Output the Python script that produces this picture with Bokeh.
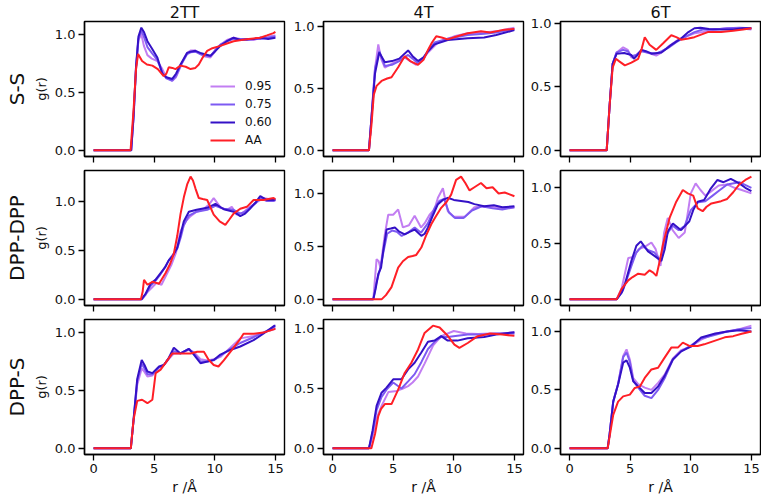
from bokeh.plotting import figure
from bokeh.models import Range1d, Title, Legend, LegendItem, FixedTicker, NumeralTickFormatter
from bokeh.layouts import column, row
from bokeh.embed import file_html
from bokeh.resources import INLINE

# ---------------- labels / styling data ----------------
series_names = ["0.95", "0.75", "0.60", "AA"]
series_colors = ["#c27ef2", "#7d5af2", "#3411c6", "#ff1f26"]
col_titles = ["2TT", "4T", "6T"]
row_titles = ["S-S", "DPP-DPP", "DPP-S"]
x_ticks = [0, 5, 10, 15]
y_ticks = [0, 0.5, 1.0]
x_label = "r /Å"
y_label = "g(r)"

# ---------------- S-S, 2TT ----------------
ss_2tt_095_x = [0, 3.1, 3.3, 3.5, 3.7, 3.94, 4.15, 4.44, 4.8, 5.26, 5.67, 6.0, 6.49, 6.8, 7.17, 7.5, 7.72, 8.0, 8.4, 8.8, 9.1, 9.64, 10.0, 10.46, 11.0, 11.55, 12.1, 12.65, 13.2, 13.75, 14.4, 15.0]
ss_2tt_095_y = [0, 0, 0.30, 0.72, 0.95, 1.0, 0.90, 0.82, 0.79, 0.77, 0.70, 0.63, 0.60, 0.63, 0.72, 0.80, 0.84, 0.86, 0.86, 0.83, 0.81, 0.80, 0.85, 0.91, 0.95, 0.97, 0.96, 0.96, 0.95, 0.97, 0.98, 0.99]
ss_2tt_075_x = ss_2tt_095_x
ss_2tt_075_y = [0, 0, 0.28, 0.70, 0.96, 1.03, 0.98, 0.89, 0.84, 0.78, 0.67, 0.62, 0.60, 0.64, 0.73, 0.79, 0.83, 0.845, 0.85, 0.83, 0.82, 0.81, 0.86, 0.91, 0.94, 0.96, 0.96, 0.95, 0.96, 0.96, 0.97, 0.98]
ss_2tt_060_x = ss_2tt_095_x
ss_2tt_060_y = [0, 0, 0.30, 0.72, 0.98, 1.057, 1.02, 0.94, 0.88, 0.80, 0.66, 0.63, 0.615, 0.66, 0.74, 0.80, 0.84, 0.85, 0.857, 0.84, 0.83, 0.815, 0.85, 0.90, 0.94, 0.97, 0.95, 0.957, 0.96, 0.97, 0.96, 0.97]
ss_2tt_aa_x = [0, 3.05, 3.3, 3.5, 3.67, 4.0, 4.4, 4.85, 5.3, 5.78, 6.0, 6.2, 6.5, 6.76, 7.17, 7.6, 8.0, 8.4, 8.68, 9.0, 9.37, 9.8, 10.46, 11.0, 11.55, 12.2, 12.8, 13.75, 14.3, 14.84, 15.0]
ss_2tt_aa_y = [0, 0, 0.35, 0.70, 0.83, 0.77, 0.74, 0.73, 0.70, 0.64, 0.66, 0.715, 0.71, 0.70, 0.73, 0.72, 0.70, 0.71, 0.74, 0.80, 0.857, 0.88, 0.90, 0.92, 0.94, 0.95, 0.96, 0.97, 0.99, 1.01, 1.02]

# ---------------- S-S, 4T ----------------
ss_4t_095_x = [0, 3.0, 3.2, 3.5, 3.77, 4.0, 4.31, 4.9, 5.5, 5.95, 6.4, 6.9, 7.4, 7.87, 8.69, 9.5, 10.03, 11.15, 12.5, 13.5, 15.0]
ss_4t_095_y = [0, 0, 0.25, 0.66, 0.855, 0.74, 0.668, 0.70, 0.73, 0.75, 0.72, 0.69, 0.73, 0.79, 0.87, 0.90, 0.92, 0.945, 0.95, 0.96, 0.99]
ss_4t_075_x = [0, 3.0, 3.2, 3.5, 3.85, 4.31, 4.9, 5.5, 6.23, 6.6, 7.05, 7.5, 7.87, 8.41, 9.5, 11.15, 12.5, 13.5, 15.0]
ss_4t_075_y = [0, 0, 0.26, 0.66, 0.80, 0.68, 0.69, 0.72, 0.77, 0.74, 0.70, 0.74, 0.80, 0.87, 0.90, 0.93, 0.94, 0.95, 0.98]
ss_4t_060_x = ss_4t_075_x
ss_4t_060_y = [0, 0, 0.25, 0.62, 0.79, 0.71, 0.72, 0.74, 0.806, 0.76, 0.72, 0.75, 0.80, 0.855, 0.89, 0.905, 0.91, 0.93, 0.97]
ss_4t_aa_x = [0, 3.0, 3.2, 3.4, 3.63, 4.04, 4.5, 4.86, 5.41, 5.95, 6.4, 7.05, 7.5, 7.87, 8.2, 8.55, 9.0, 9.5, 10.3, 11.15, 12.24, 13.0, 14.0, 15.0]
ss_4t_aa_y = [0, 0, 0.20, 0.45, 0.52, 0.56, 0.58, 0.59, 0.67, 0.76, 0.72, 0.69, 0.73, 0.81, 0.87, 0.92, 0.91, 0.895, 0.92, 0.945, 0.96, 0.95, 0.97, 0.98]

# ---------------- S-S, 6T ----------------
ss_6t_095_x = [0, 3.06, 3.3, 3.55, 3.88, 4.42, 4.8, 5.1, 5.5, 5.93, 6.4, 7.15, 7.6, 8.2, 8.8, 9.5, 10.3, 11.0, 12.0, 13.0, 14.0, 15.0]
ss_6t_095_y = [0, 0, 0.35, 0.68, 0.77, 0.81, 0.79, 0.73, 0.75, 0.79, 0.77, 0.745, 0.77, 0.82, 0.86, 0.89, 0.92, 0.93, 0.95, 0.96, 0.96, 0.95]
ss_6t_075_x = ss_6t_095_x
ss_6t_075_y = [0, 0, 0.35, 0.68, 0.77, 0.79, 0.78, 0.74, 0.75, 0.78, 0.77, 0.76, 0.78, 0.81, 0.85, 0.89, 0.93, 0.95, 0.95, 0.96, 0.965, 0.96]
ss_6t_060_x = [0, 3.06, 3.3, 3.55, 3.88, 4.5, 5.1, 5.3, 5.6, 5.93, 6.3, 6.75, 7.57, 8.0, 8.39, 9.2, 9.8, 10.3, 10.8, 11.5, 12.5, 13.5, 14.3, 15.0]
ss_6t_060_y = [0, 0, 0.35, 0.68, 0.76, 0.765, 0.75, 0.72, 0.75, 0.79, 0.78, 0.76, 0.77, 0.80, 0.83, 0.88, 0.93, 0.96, 0.965, 0.955, 0.95, 0.95, 0.96, 0.96]
ss_6t_aa_x = [0, 3.06, 3.3, 3.55, 3.82, 4.1, 4.56, 5.1, 5.66, 5.95, 6.2, 6.6, 7.15, 7.7, 8.39, 8.8, 9.2, 9.8, 10.3, 11.4, 12.5, 13.5, 14.3, 15.0]
ss_6t_aa_y = [0, 0, 0.35, 0.65, 0.72, 0.70, 0.668, 0.69, 0.72, 0.80, 0.89, 0.83, 0.79, 0.84, 0.905, 0.89, 0.87, 0.88, 0.89, 0.93, 0.93, 0.94, 0.95, 0.96]

# ---------------- DPP-DPP, 2TT ----------------
dd_2tt_095_x = [0, 4.0, 4.4, 4.8, 5.2, 5.6, 6.0, 6.4, 6.8, 7.17, 7.6, 8.0, 8.5, 9.0, 9.5, 9.91, 10.5, 11.0, 11.4, 11.8, 12.3, 12.9, 13.5, 14.0, 14.85, 15.0]
dd_2tt_095_y = [0, 0, 0.07, 0.12, 0.17, 0.15, 0.25, 0.35, 0.48, 0.70, 0.80, 0.855, 0.90, 0.92, 0.97, 1.04, 0.94, 0.92, 0.95, 0.87, 0.89, 0.95, 1.0, 1.04, 1.02, 1.01]
dd_2tt_075_x = [0, 3.95, 4.3, 4.7, 5.1, 5.53, 5.9, 6.2, 6.55, 6.9, 7.2, 7.44, 7.86, 8.5, 9.37, 10.05, 10.74, 11.55, 12.1, 12.5, 12.9, 13.4, 13.75, 14.3, 14.85, 15.0]
dd_2tt_075_y = [0, 0, 0.05, 0.14, 0.19, 0.26, 0.33, 0.40, 0.46, 0.52, 0.64, 0.76, 0.86, 0.90, 0.92, 0.96, 0.93, 0.92, 0.88, 0.90, 0.94, 0.99, 1.04, 1.01, 1.01, 1.02]
dd_2tt_060_x = dd_2tt_075_x
dd_2tt_060_y = [0, 0, 0.06, 0.16, 0.20, 0.27, 0.33, 0.40, 0.45, 0.53, 0.68, 0.80, 0.90, 0.92, 0.94, 0.98, 0.925, 0.90, 0.855, 0.88, 0.93, 1.0, 1.06, 1.02, 1.02, 1.03]
dd_2tt_aa_x = [0, 3.9, 4.05, 4.16, 4.44, 4.85, 5.4, 5.94, 6.3, 6.62, 6.9, 7.17, 7.45, 7.72, 8.0, 8.2, 8.4, 8.68, 9.0, 9.37, 9.91, 10.4, 10.87, 11.2, 11.55, 12.1, 12.65, 13.2, 14.0, 14.85, 15.0]
dd_2tt_aa_y = [0, 0, 0.08, 0.20, 0.15, 0.18, 0.16, 0.27, 0.36, 0.47, 0.65, 0.875, 1.05, 1.18, 1.26, 1.22, 1.14, 1.04, 1.03, 1.02, 0.87, 0.80, 0.765, 0.82, 0.88, 0.93, 0.95, 1.02, 1.02, 1.04, 1.03]

# ---------------- DPP-DPP, 4T ----------------
dd_4t_095_x = [0, 3.36, 3.5, 3.63, 3.8, 3.95, 4.31, 4.59, 5.0, 5.41, 5.8, 6.3, 6.77, 7.3, 7.6, 8.0, 8.4, 8.69, 9.1, 9.5, 10.0, 10.9, 11.7, 12.5, 13.3, 14.0, 15.0]
dd_4t_095_y = [0, 0, 0.20, 0.38, 0.36, 0.30, 0.615, 0.80, 0.80, 0.85, 0.68, 0.70, 0.79, 0.68, 0.72, 0.80, 0.85, 0.96, 1.05, 0.835, 0.78, 0.78, 0.87, 0.88, 0.87, 0.86, 0.87]
dd_4t_075_x = [0, 3.36, 3.6, 3.9, 4.2, 4.5, 4.9, 5.3, 5.7, 6.2, 6.77, 7.3, 7.87, 8.4, 8.8, 9.2, 9.6, 10.1, 10.8, 11.5, 12.3, 13.2, 14.0, 15.0]
dd_4t_075_y = [0, 0, 0.15, 0.28, 0.45, 0.62, 0.65, 0.64, 0.60, 0.63, 0.68, 0.63, 0.72, 0.86, 0.93, 0.95, 0.82, 0.77, 0.77, 0.84, 0.88, 0.86, 0.85, 0.87]
dd_4t_060_x = [0, 3.36, 3.55, 3.77, 4.0, 4.18, 4.45, 4.8, 5.14, 5.5, 5.95, 6.4, 6.77, 7.32, 7.6, 7.87, 8.3, 8.69, 9.1, 9.5, 10.0, 10.6, 11.2, 11.7, 12.5, 13.3, 14.0, 15.0]
dd_4t_060_y = [0, 0, 0.10, 0.24, 0.30, 0.46, 0.66, 0.67, 0.68, 0.64, 0.615, 0.64, 0.66, 0.60, 0.62, 0.68, 0.80, 0.90, 0.94, 0.96, 0.94, 0.93, 0.92, 0.90, 0.88, 0.89, 0.87, 0.88]
dd_4t_aa_x = [0, 4.04, 4.4, 4.86, 5.41, 5.8, 6.23, 6.6, 6.9, 7.32, 7.7, 8.14, 8.5, 8.96, 9.4, 9.78, 10.19, 10.6, 10.95, 11.3, 11.7, 12.24, 12.7, 13.2, 13.7, 14.2, 15.0]
dd_4t_aa_y = [0, 0, 0.04, 0.115, 0.30, 0.36, 0.40, 0.41, 0.42, 0.49, 0.60, 0.71, 0.78, 0.865, 0.92, 0.99, 1.13, 1.16, 1.10, 1.03, 1.06, 1.10, 1.05, 1.06, 1.00, 1.01, 0.975]

# ---------------- DPP-DPP, 6T ----------------
dd_6t_095_x = [0, 3.88, 4.3, 4.84, 5.3, 5.7, 6.2, 6.75, 7.1, 7.5, 7.8, 8.1, 8.5, 9.0, 9.5, 10.0, 10.4, 10.8, 11.2, 11.7, 12.3, 13.0, 13.6, 14.2, 15.0]
dd_6t_095_y = [0, 0, 0.10, 0.37, 0.38, 0.45, 0.47, 0.51, 0.45, 0.30, 0.60, 0.73, 0.62, 0.55, 0.60, 0.95, 1.04, 0.98, 0.93, 0.97, 1.02, 1.03, 1.0, 0.98, 0.95]
dd_6t_075_x = [0, 3.88, 4.4, 5.1, 5.5, 6.0, 6.5, 7.0, 7.5, 8.0, 8.5, 9.0, 9.5, 10.0, 10.6, 11.2, 11.8, 12.4, 13.0, 14.0, 15.0]
dd_6t_075_y = [0, 0, 0.08, 0.30, 0.42, 0.48, 0.44, 0.42, 0.35, 0.58, 0.66, 0.62, 0.66, 0.80, 0.87, 0.88, 0.93, 0.98, 1.03, 1.05, 1.0]
dd_6t_060_x = [0, 3.88, 4.3, 4.6, 5.1, 5.51, 5.87, 6.2, 6.47, 7.0, 7.57, 7.85, 8.11, 8.52, 9.2, 9.88, 10.2, 10.57, 11.1, 11.66, 12.2, 12.7, 13.3, 14.0, 14.5, 15.0]
dd_6t_060_y = [0, 0, 0.06, 0.15, 0.345, 0.48, 0.52, 0.47, 0.43, 0.39, 0.345, 0.45, 0.61, 0.68, 0.62, 0.70, 0.80, 0.876, 0.89, 0.995, 1.07, 1.05, 1.08, 1.04, 1.0, 0.97]
dd_6t_aa_x = [0, 3.88, 4.29, 4.84, 5.2, 5.66, 6.2, 6.6, 6.9, 7.16, 7.45, 7.7, 8.25, 8.8, 9.34, 9.75, 10.2, 10.57, 10.98, 11.3, 11.7, 12.5, 13.0, 13.5, 14.0, 14.5, 15.0]
dd_6t_aa_y = [0, 0, 0.094, 0.17, 0.20, 0.23, 0.22, 0.26, 0.24, 0.21, 0.35, 0.49, 0.73, 0.875, 0.98, 0.95, 0.93, 0.815, 0.79, 0.83, 0.86, 0.88, 0.90, 0.96, 1.03, 1.07, 1.10]

# ---------------- DPP-S, 2TT ----------------
ds_2tt_095_x = [0, 3.07, 3.3, 3.6, 3.97, 4.2, 4.44, 4.85, 5.4, 5.8, 6.2, 6.62, 7.17, 7.86, 8.27, 8.82, 9.4, 9.91, 10.46, 11.28, 12.1, 13.2, 14.0, 14.93, 15.0]
ds_2tt_095_y = [0, 0, 0.24, 0.55, 0.69, 0.66, 0.62, 0.63, 0.70, 0.72, 0.77, 0.82, 0.82, 0.85, 0.83, 0.77, 0.76, 0.77, 0.79, 0.87, 0.95, 0.97, 1.0, 1.03, 1.03]
ds_2tt_075_x = ds_2tt_095_x
ds_2tt_075_y = [0, 0, 0.25, 0.58, 0.73, 0.69, 0.64, 0.64, 0.70, 0.72, 0.78, 0.84, 0.82, 0.86, 0.82, 0.75, 0.75, 0.76, 0.80, 0.86, 0.91, 0.96, 1.0, 1.05, 1.05]
ds_2tt_060_x = ds_2tt_095_x
ds_2tt_060_y = [0, 0, 0.25, 0.60, 0.764, 0.72, 0.664, 0.65, 0.707, 0.72, 0.78, 0.87, 0.82, 0.86, 0.81, 0.735, 0.75, 0.764, 0.81, 0.85, 0.88, 0.935, 0.99, 1.06, 1.06]
ds_2tt_aa_x = [0, 3.07, 3.3, 3.6, 4.0, 4.44, 4.85, 5.12, 5.53, 6.08, 6.5, 7.17, 8.0, 8.55, 9.1, 9.5, 9.91, 10.3, 10.74, 11.41, 12.0, 12.37, 13.2, 14.0, 14.93, 15.0]
ds_2tt_aa_y = [0, 0, 0.25, 0.41, 0.42, 0.39, 0.42, 0.65, 0.68, 0.76, 0.82, 0.82, 0.82, 0.835, 0.835, 0.764, 0.72, 0.707, 0.76, 0.85, 0.93, 0.99, 0.99, 1.0, 1.03, 1.03]

# ---------------- DPP-S, 4T ----------------
ds_4t_095_x = [0, 3.0, 3.3, 3.63, 4.04, 4.6, 5.3, 5.8, 6.23, 6.6, 7.05, 7.6, 8.3, 8.96, 10.0, 11.0, 12.0, 13.0, 14.0, 15.0]
ds_4t_095_y = [0, 0, 0.10, 0.25, 0.355, 0.47, 0.48, 0.50, 0.52, 0.55, 0.60, 0.71, 0.86, 0.937, 0.98, 0.96, 0.955, 0.96, 0.96, 0.97]
ds_4t_075_x = [0, 3.0, 3.3, 3.63, 4.04, 4.45, 5.0, 5.68, 6.23, 6.77, 7.32, 7.87, 8.41, 8.96, 9.5, 10.3, 11.15, 12.5, 13.5, 15.0]
ds_4t_075_y = [0, 0, 0.13, 0.32, 0.43, 0.49, 0.55, 0.50, 0.56, 0.62, 0.72, 0.83, 0.89, 0.93, 0.93, 0.94, 0.95, 0.95, 0.96, 0.96]
ds_4t_060_x = ds_4t_075_x
ds_4t_060_y = [0, 0, 0.15, 0.355, 0.465, 0.507, 0.577, 0.577, 0.66, 0.715, 0.80, 0.89, 0.90, 0.937, 0.90, 0.90, 0.92, 0.93, 0.95, 0.97]
ds_4t_aa_x = [0, 3.2, 3.5, 3.77, 4.0, 4.31, 4.86, 5.41, 5.95, 6.5, 7.05, 7.59, 8.28, 8.83, 9.5, 10.05, 10.46, 11.15, 11.97, 13.0, 14.0, 15.0]
ds_4t_aa_y = [0, 0, 0.12, 0.27, 0.33, 0.37, 0.37, 0.49, 0.63, 0.715, 0.826, 0.964, 1.025, 1.01, 0.94, 0.867, 0.84, 0.88, 0.937, 0.96, 0.95, 0.94]

# ---------------- DPP-S, 6T ----------------
ds_6t_095_x = [0, 3.14, 3.3, 3.6, 4.0, 4.42, 4.7, 4.97, 5.25, 5.66, 6.2, 6.75, 7.3, 7.84, 8.52, 9.2, 10.0, 10.85, 11.95, 13.0, 14.0, 15.0]
ds_6t_095_y = [0, 0, 0.12, 0.40, 0.55, 0.79, 0.847, 0.76, 0.60, 0.55, 0.52, 0.50, 0.56, 0.63, 0.77, 0.84, 0.87, 0.93, 0.98, 1.0, 1.02, 1.05]
ds_6t_075_x = ds_6t_095_x
ds_6t_075_y = [0, 0, 0.12, 0.40, 0.55, 0.78, 0.82, 0.74, 0.58, 0.52, 0.45, 0.43, 0.50, 0.60, 0.76, 0.83, 0.88, 0.94, 0.97, 1.0, 1.02, 1.03]
ds_6t_060_x = ds_6t_095_x
ds_6t_060_y = [0, 0, 0.12, 0.40, 0.546, 0.733, 0.753, 0.69, 0.574, 0.53, 0.474, 0.474, 0.53, 0.62, 0.76, 0.83, 0.87, 0.948, 0.98, 1.0, 1.01, 1.0]
ds_6t_aa_x = [0, 3.14, 3.3, 3.6, 4.0, 4.42, 4.97, 5.38, 5.8, 6.2, 6.75, 7.3, 7.84, 8.39, 8.93, 9.34, 9.88, 10.57, 11.1, 11.95, 12.8, 13.5, 14.2, 15.0]
ds_6t_aa_y = [0, 0, 0.10, 0.287, 0.40, 0.445, 0.46, 0.517, 0.53, 0.603, 0.675, 0.69, 0.776, 0.862, 0.862, 0.905, 0.876, 0.876, 0.89, 0.92, 0.95, 0.96, 0.98, 1.0]

panels = [
    [
        [(ss_2tt_095_x, ss_2tt_095_y), (ss_2tt_075_x, ss_2tt_075_y), (ss_2tt_060_x, ss_2tt_060_y), (ss_2tt_aa_x, ss_2tt_aa_y)],
        [(ss_4t_095_x, ss_4t_095_y), (ss_4t_075_x, ss_4t_075_y), (ss_4t_060_x, ss_4t_060_y), (ss_4t_aa_x, ss_4t_aa_y)],
        [(ss_6t_095_x, ss_6t_095_y), (ss_6t_075_x, ss_6t_075_y), (ss_6t_060_x, ss_6t_060_y), (ss_6t_aa_x, ss_6t_aa_y)],
    ],
    [
        [(dd_2tt_095_x, dd_2tt_095_y), (dd_2tt_075_x, dd_2tt_075_y), (dd_2tt_060_x, dd_2tt_060_y), (dd_2tt_aa_x, dd_2tt_aa_y)],
        [(dd_4t_095_x, dd_4t_095_y), (dd_4t_075_x, dd_4t_075_y), (dd_4t_060_x, dd_4t_060_y), (dd_4t_aa_x, dd_4t_aa_y)],
        [(dd_6t_095_x, dd_6t_095_y), (dd_6t_075_x, dd_6t_075_y), (dd_6t_060_x, dd_6t_060_y), (dd_6t_aa_x, dd_6t_aa_y)],
    ],
    [
        [(ds_2tt_095_x, ds_2tt_095_y), (ds_2tt_075_x, ds_2tt_075_y), (ds_2tt_060_x, ds_2tt_060_y), (ds_2tt_aa_x, ds_2tt_aa_y)],
        [(ds_4t_095_x, ds_4t_095_y), (ds_4t_075_x, ds_4t_075_y), (ds_4t_060_x, ds_4t_060_y), (ds_4t_aa_x, ds_4t_aa_y)],
        [(ds_6t_095_x, ds_6t_095_y), (ds_6t_075_x, ds_6t_075_y), (ds_6t_060_x, ds_6t_060_y), (ds_6t_aa_x, ds_6t_aa_y)],
    ],
]

FONT = "DejaVu Sans"
FW, FH = 200, 135
border_left = [83, 34, 34]
border_right = [5, 3, 1]
border_top = [4, 4, 4]
border_bottom = [10, 10, 43]

rows = []
for r in range(3):
    figs = []
    for c in range(3):
        series = panels[r][c]
        all_x = [v for s in series for v in s[0]]
        all_y = [v for s in series for v in s[1]]
        xlo, xhi = min(all_x), max(all_x)
        ylo, yhi = min(all_y), max(all_y)
        xp = 0.05 * (xhi - xlo)
        yp = 0.05 * (yhi - ylo)
        p = figure(frame_width=FW, frame_height=FH, output_backend="svg", toolbar_location=None,
                   x_range=Range1d(xlo - xp, xhi + xp), y_range=Range1d(ylo - yp, yhi + yp),
                   min_border_left=border_left[c], min_border_right=border_right[c],
                   min_border_top=border_top[r], min_border_bottom=border_bottom[r],
                   background_fill_color="white", border_fill_color="white")
        p.grid.visible = False
        p.outline_line_color = "black"
        p.outline_line_width = 1.4
        p.outline_line_alpha = 1.0
        for ax in (p.xaxis[0], p.yaxis[0]):
            ax.axis_line_color = "black"
            ax.axis_line_width = 1.4
            ax.major_tick_line_color = "black"
            ax.major_tick_line_width = 1.3
            ax.major_tick_out = 6
            ax.major_tick_in = 0
            ax.minor_tick_line_color = None
            ax.major_label_text_font = FONT
            ax.major_label_text_font_size = "13px"
            ax.major_label_text_color = "#111111"
            ax.axis_label_text_font = FONT
            ax.axis_label_text_font_style = "normal"
            ax.axis_label_text_color = "#111111"
        p.xaxis.ticker = FixedTicker(ticks=x_ticks)
        p.yaxis.ticker = FixedTicker(ticks=y_ticks)
        p.yaxis.formatter = NumeralTickFormatter(format="0.0")
        p.yaxis.major_label_standoff = 3
        if r < 2:
            p.xaxis.major_label_overrides = {t: "" for t in x_ticks}
            p.xaxis.major_label_text_font_size = "1px"
            p.xaxis.major_label_standoff = 0
        else:
            p.xaxis.major_label_standoff = 3
            p.xaxis.axis_label = x_label
            p.xaxis.axis_label_text_font_size = "14px"
            p.xaxis.axis_label_standoff = 3
        if c == 0:
            p.yaxis.axis_label = y_label
            p.yaxis.axis_label_text_font_size = "13px"
            p.yaxis.axis_label_standoff = 3
            p.add_layout(Title(text=row_titles[r], align="center", text_font=FONT,
                               text_font_size="20px", text_font_style="normal",
                               text_color="#111111", standoff=4), "left")
        if r == 0:
            p.add_layout(Title(text=col_titles[c], align="center", text_font=FONT,
                               text_font_size="16px", text_font_style="normal",
                               text_color="#111111", standoff=0), "above")

        renderers = []
        for k, (xs, ys) in enumerate(series):
            rr = p.line(xs, ys, line_color=series_colors[k], line_width=2.0)
            renderers.append(rr)

        if r == 0 and c == 0:
            legend = Legend(items=[LegendItem(label=series_names[k], renderers=[renderers[k]]) for k in range(4)],
                            location=(126, 7), orientation="vertical",
                            glyph_width=25, glyph_height=18, label_height=18, spacing=0,
                            padding=0, margin=0, label_standoff=10,
                            label_text_font=FONT, label_text_font_size="12px", label_text_color="#111111",
                            border_line_alpha=0, background_fill_alpha=0)
            p.add_layout(legend)
        figs.append(p)
    rows.append(row(*figs))

layout = column(*rows)
open("out.html", "w").write(file_html(layout, INLINE))
